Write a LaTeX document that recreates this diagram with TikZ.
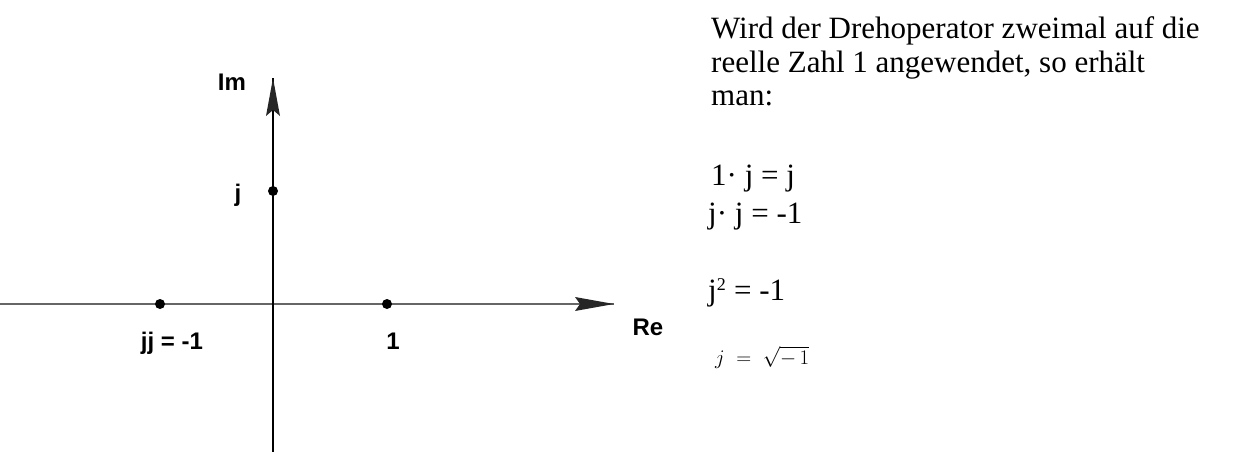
\documentclass[tikz,border=0pt]{standalone}
\usepackage{fontspec}
\setmainfont{Liberation Serif}
\setsansfont{Liberation Sans}
\begin{document}
\begin{tikzpicture}[x=1pt,y=-1pt,
  lbl/.style={font=\sffamily\bfseries\fontsize{24}{28}\selectfont, inner sep=0pt, anchor=base},
  txt/.style={font=\fontsize{31}{34}\selectfont, inner sep=0pt, anchor=base west},
  pt/.style={circle, fill=black, minimum size=10pt, inner sep=0pt},
  head/.style={fill=black!85, draw=none}]
\useasboundingbox (0,0) rectangle (1233,452);
% axes
\coordinate (xl) at (0,304);
\coordinate (xr) at (614,304);
\coordinate (yb) at (273,452);
\coordinate (yt) at (273,78);
\draw[black!60, line width=1.3pt] (xl) -- (xr);
\draw[black, line width=1.1pt] (yb) -- (yt);
\fill[head] (xr) -- (575,297) -- (580,304) -- (575,311) -- cycle;
\fill[head] (yt) -- (266,116) -- (273,110) -- (280,116) -- cycle;
% points
\node[pt] (pj) at (273,191) {};
\node[pt] (pm) at (160,304) {};
\node[pt] (p1) at (387,304) {};
% labels
\node[lbl] (im) at (232,90) {Im};
\node[lbl] (lj) at (238,201) {j};
\node[lbl] (re) at (648,335) {Re};
\node[lbl] (lm) at (172,349) {jj = -1};
\node[lbl] (l1) at (393,349) {1};
% right text
\node[txt] (t1) at (711,38) {Wird der Drehoperator zweimal auf die};
\node[txt] (t2) at (711,72) {reelle Zahl 1 angewendet, so erhält};
\node[txt] (t3) at (711,105) {man:};
\node[txt] (e1) at (711,185) {1· j = j};
\node[txt] (e2) at (708,223) {j· j = -1};
\node[txt] (e3) at (708,300) {j\textsuperscript{\fontsize{18}{18}\selectfont 2} = -1};
\node[txt, font=\fontsize{20}{24}\selectfont] (e4) at (715,364) {$j\;=\;\sqrt{-\,1}$};
\end{tikzpicture}
\end{document}
